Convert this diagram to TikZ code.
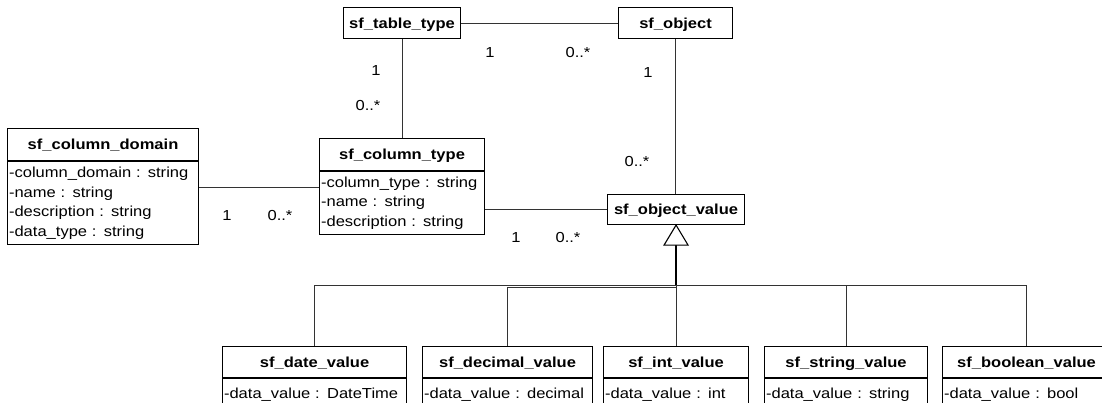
\documentclass[tikz,border=0pt]{standalone}
\usepackage{fontspec}
\setmainfont{Liberation Sans}[FakeStretch=1.14]
\usetikzlibrary{calc}

\begin{document}
\begin{tikzpicture}[x=1pt,y=-1pt,
  every node/.style={font=\fontsize{14.5}{19.4}\selectfont},
  hdr/.style={draw=black, line width=1.1pt, anchor=north west, inner sep=0pt,
    font=\bfseries\fontsize{14.5}{19.4}\selectfont, text height=11pt, text depth=1pt},
  attrs/.style={draw=black, line width=1.1pt, anchor=north west, align=left,
    inner xsep=1.5pt, inner ysep=0pt},
  leaf/.style={attrs, minimum height=33pt, text height=10.5pt, text depth=3pt},
  mult/.style={inner sep=0pt, text height=10pt, text depth=0pt},
  conn/.style={draw=black!80, line width=0.9pt},
  gen/.style={draw=black, line width=1.7pt}
]
\useasboundingbox (0,0) rectangle (1102,402);
\clip (0,0) rectangle (1102,402);

% ---- classes ----
\node[hdr, minimum width=117pt, minimum height=31pt] (tt) at (343,7) {sf\_table\_type};
\node[hdr, minimum width=114pt, minimum height=31pt] (obj) at (618,7) {sf\_object};

\node[hdr, minimum width=191pt, minimum height=32pt] (dom) at (7,128) {sf\_column\_domain};
\node[attrs, text width=188pt, minimum height=83pt] (domA) at (dom.south west)
  {-column\_domain : string\\-name : string\\-description : string\\-data\_type : string};

\node[hdr, minimum width=165pt, minimum height=32pt] (ct) at (319,138) {sf\_column\_type};
\node[attrs, text width=162pt, minimum height=63pt] (ctA) at (ct.south west)
  {-column\_type : string\\-name : string\\-description : string};

\node[hdr, minimum width=137pt, minimum height=30pt] (ov) at (607,194) {sf\_object\_value};

\node[hdr, minimum width=184pt, minimum height=31pt] (date) at (222,346) {sf\_date\_value};
\node[leaf, text width=181pt] (dateA) at (date.south west) {-data\_value : DateTime};

\node[hdr, minimum width=170pt, minimum height=31pt] (dec) at (422,346) {sf\_decimal\_value};
\node[leaf, text width=167pt] (decA) at (dec.south west) {-data\_value : decimal};

\node[hdr, minimum width=145pt, minimum height=31pt] (int) at (603,346) {sf\_int\_value};
\node[leaf, text width=142pt] (intA) at (int.south west) {-data\_value : int};

\node[hdr, minimum width=163pt, minimum height=31pt] (str) at (764,346) {sf\_string\_value};
\node[leaf, text width=160pt] (strA) at (str.south west) {-data\_value : string};

\node[hdr, minimum width=168pt, minimum height=31pt] (bool) at (942,346) {sf\_boolean\_value};
\node[leaf, text width=165pt] (boolA) at (bool.south west) {-data\_value : bool};

% ---- associations ----
\draw[conn] (tt.east) -- (obj.west);
\draw[conn] (tt.south) -- (ct.north);
\draw[conn] (obj.south) -- (obj.south |- ov.north);
\coordinate (dc) at ($(domA.north east)+(0,26)$);
\draw[conn] (dc) -- (dc -| ctA.west);
\draw[conn] (ov.west) -- (ov.west -| ctA.east);

% ---- multiplicities ----
\node[mult] (m1) at (490,52) {1};
\node[mult] (m2) at (578,52) {0..*};
\node[mult] (m3) at (376,70) {1};
\node[mult] (m4) at (368,105) {0..*};
\node[mult] (m5) at (648,72) {1};
\node[mult] (m6) at (637,161) {0..*};
\node[mult] (m7) at (227,215) {1};
\node[mult] (m8) at (280,215) {0..*};
\node[mult] (m9) at (516,237) {1};
\node[mult] (m10) at (568,237) {0..*};

% ---- generalization ----
\coordinate (tb) at ($(ov.south)+(0,20)$);
\coordinate (jy) at (0,285);
\coordinate (j) at (tb |- jy);
\draw[conn] (j) -| (date.north);
\draw[conn] ($(j)+(0,2)$) -| (dec.north);
\draw[conn] (j) -- (int.north);
\draw[conn] (j) -| (str.north);
\draw[conn] (j) -| (bool.north);
\draw[gen] (tb) -- (j);
\draw[line width=1.1pt, fill=white, line join=miter] (ov.south) -- ++(-12,20) -- ++(24,0) -- cycle;
\end{tikzpicture}
\end{document}
